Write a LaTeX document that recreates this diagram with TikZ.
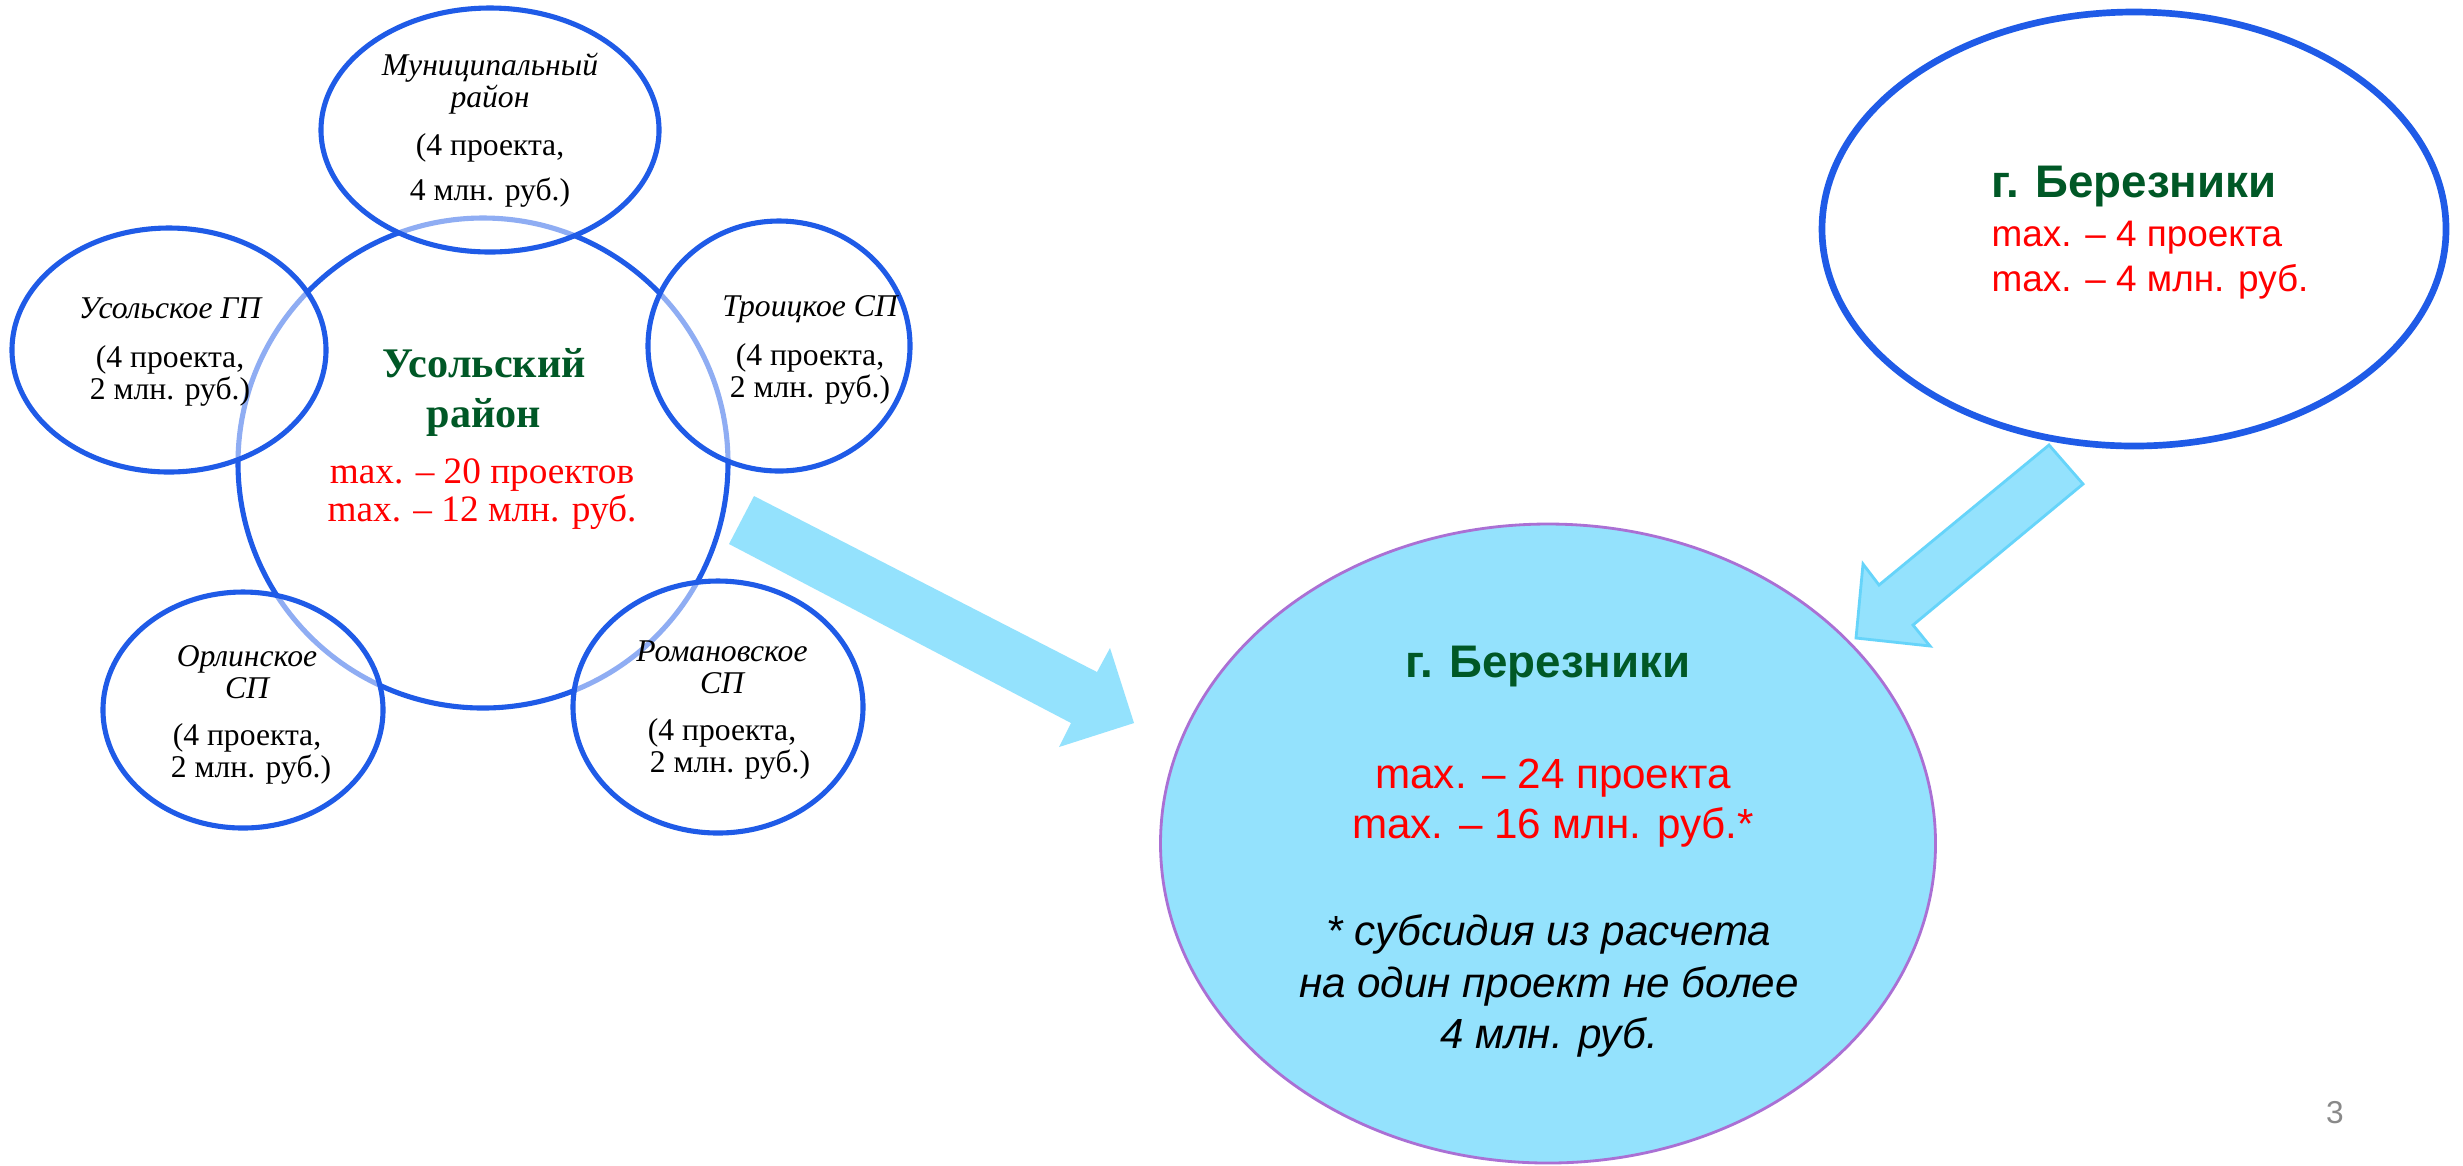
\documentclass[tikz,border=0pt]{standalone}
\usepackage{fontspec}
\setmainfont{Liberation Serif}
\setsansfont{Liberation Sans}
\usepackage{tikz}
\usetikzlibrary{shapes.geometric}
\definecolor{ringblue}{RGB}{31,91,231}
\definecolor{leafgreen}{RGB}{0,88,38}
\definecolor{skyfill}{RGB}{148,226,253}
\definecolor{skyline}{RGB}{102,212,250}
\definecolor{lilac}{RGB}{170,112,212}
\definecolor{pagegrey}{RGB}{137,137,137}
\tikzset{
  ring/.style={ellipse,draw=ringblue,line width=1.45pt,inner sep=0pt,outer sep=0pt},
  satellite/.style={ring,fill=white,fill opacity=0.5},
  satname/.style={font=\fontsize{9}{9.2}\selectfont,align=center,inner sep=0pt},
  cityname/.style={font=\sffamily\bfseries\fontsize{13}{15}\selectfont,text=leafgreen,inner sep=0pt}
}

\begin{document}
\begin{tikzpicture}
  % page
  \fill[white] (0,0) rectangle (24.63,-11.65);

  % arrow to the city
  \fill[skyfill] (7.54,-4.96) -- (10.97,-6.72) -- (11.10,-6.48) -- (11.34,-7.23)
     -- (10.59,-7.47) -- (10.71,-7.23) -- (7.29,-5.44) -- cycle;

  % district
  \node[ring,fill=white,minimum width=4.90cm,minimum height=4.90cm] (rayon) at (4.83,-4.63) {};
  \node[satellite,minimum width=3.38cm,minimum height=2.44cm] (muni) at (4.90,-1.30) {};
  \node[satellite,minimum width=3.14cm,minimum height=2.44cm] (usolgp) at (1.69,-3.50) {};
  \node[satellite,minimum width=2.62cm,minimum height=2.50cm] (troick) at (7.79,-3.46) {};
  \node[satellite,minimum width=2.80cm,minimum height=2.36cm] (orlin) at (2.43,-7.10) {};
  \node[satellite,minimum width=2.90cm,minimum height=2.52cm] (roman) at (7.18,-7.07) {};

  \node[satname] (muniText) at (4.90,-1.30)
     {\itshape Муниципальный\\\itshape район\\[4.4pt](4 проекта,\\[3.6pt]4 млн. руб.)};
  \node[satname] (usolgpText) at (1.70,-3.52)
     {\itshape Усольское ГП\\[4.6pt](4 проекта,\\2 млн. руб.)};
  \node[satname] (troickText) at (8.10,-3.50)
     {\itshape Троицкое СП\\[4.6pt](4 проекта,\\2 млн. руб.)};
  \node[satname] (orlinText) at (2.47,-7.15)
     {\itshape Орлинское\\\itshape СП\\[4.2pt](4 проекта,\\\ 2 млн. руб.)};
  \node[satname] (romanText) at (7.22,-7.10)
     {\itshape Романовское\\\itshape СП\\[4.0pt](4 проекта,\\\ \ 2 млн. руб.)};

  \node[font=\bfseries\fontsize{12}{14}\selectfont,text=leafgreen,align=center,inner sep=0pt]
     (rayonTitle) at (4.84,-3.925) {Усольский\\район};
  \node[font=\fontsize{10.6}{10.8}\selectfont,text=red,align=center,inner sep=0pt]
     (rayonLimits) at (4.82,-4.94) {max. – 20 проектов\\max. – 12 млн. руб.};

  % the city, total
  \node[ellipse,draw=lilac,line width=0.8pt,fill=skyfill,inner sep=0pt,
        minimum width=7.75cm,minimum height=6.39cm] (total) at (15.48,-8.435) {};
  \node[cityname] (totalTitle) at (15.48,-6.66) {г. Березники};
  \node[font=\sffamily\fontsize{12}{14.2}\selectfont,text=red,align=center,inner sep=0pt]
     (totalLimits) at (15.53,-8.03) {max. – 24 проекта\\max. – 16 млн. руб.*};
  \node[font=\sffamily\itshape\fontsize{12}{14.7}\selectfont,align=center,inner sep=0pt]
     (totalNote) at (15.49,-9.86) {* субсидия из расчета\\на один проект не более\\4 млн. руб.};

  % arrow from the city
  \filldraw[fill=skyfill,draw=skyline,line width=0.8pt,line join=miter]
     (20.49,-4.45) -- (20.83,-4.84) -- (19.13,-6.25) -- (19.30,-6.46)
     -- (18.56,-6.38) -- (18.63,-5.64) -- (18.79,-5.85) -- cycle;

  % the city alone
  \node[ring,line width=1.9pt,fill=white,minimum width=6.24cm,minimum height=4.34cm]
     (city) at (21.34,-2.29) {};
  \node[cityname] (cityTitle) at (21.34,-1.87) {г. Березники};
  \node[font=\sffamily\fontsize{10.5}{12.8}\selectfont,text=red,align=left,inner sep=0pt,anchor=west]
     (cityLimits) at (19.91,-2.605) {max. – 4 проекта\\ max. – 4 млн. руб.};

  % page number
  \node[font=\sffamily\fontsize{9}{10}\selectfont,text=pagegrey,inner sep=0pt] (pageNo) at (23.35,-11.13) {3};
\end{tikzpicture}
\end{document}
